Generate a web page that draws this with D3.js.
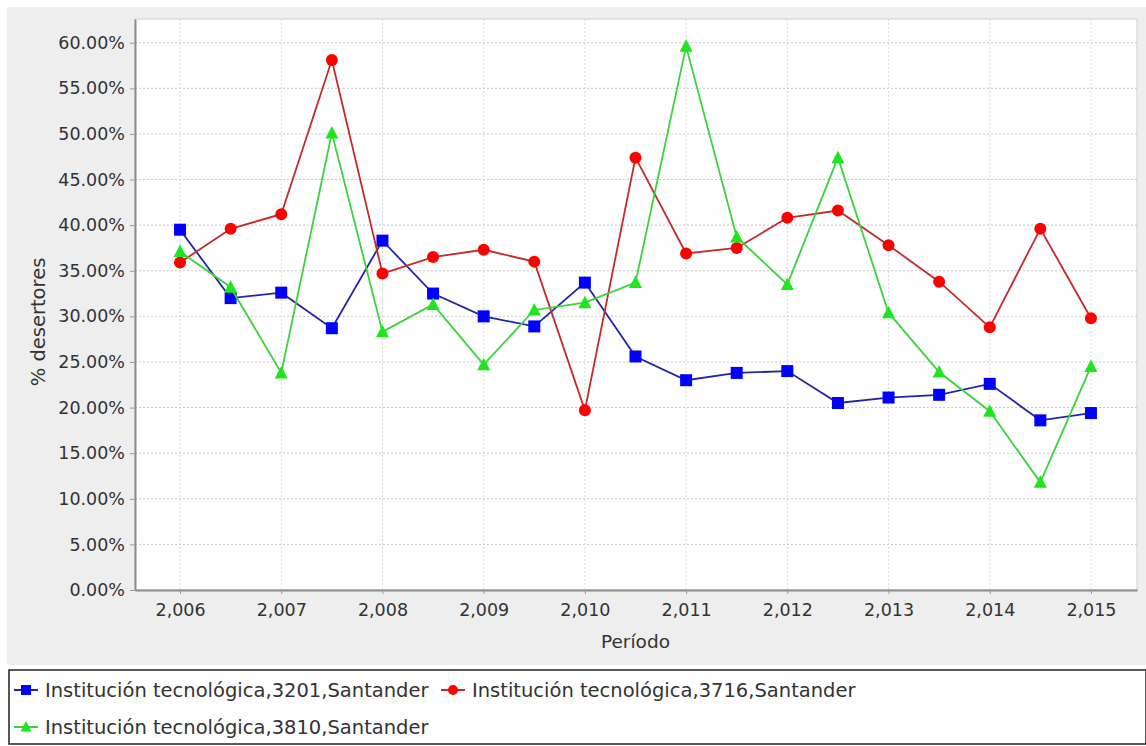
<!DOCTYPE html>
<html>
<head>
<meta charset="utf-8">
<script src="https://cdn.jsdelivr.net/npm/d3@7"></script>
<style>
  html, body { margin: 0; padding: 0; background: #ffffff; }
  svg { display: block; }
  text { font-family: "DejaVu Sans", sans-serif; fill: #333; }
</style>
</head>
<body>
<svg id="chart" width="1146" height="746"></svg>
<script>
// ---- data ----
const periods = [2006, 2006.5, 2007, 2007.5, 2008, 2008.5, 2009, 2009.5, 2010, 2010.5,
                 2011, 2011.5, 2012, 2012.5, 2013, 2013.5, 2014, 2014.5, 2015];
const seriesNames = [
  "Institución tecnológica,3201,Santander",
  "Institución tecnológica,3716,Santander",
  "Institución tecnológica,3810,Santander"
];
const values3201 = [39.5, 32.0, 32.6, 28.7, 38.3, 32.5, 30.0, 28.9, 33.7, 25.6,
                    23.0, 23.8, 24.0, 20.5, 21.1, 21.4, 22.6, 18.6, 19.4];
const values3716 = [35.9, 39.6, 41.2, 58.1, 34.7, 36.5, 37.3, 36.0, 19.7, 47.4,
                    36.9, 37.5, 40.8, 41.6, 37.8, 33.8, 28.8, 39.6, 29.8];
const values3810 = [37.1, 33.2, 23.8, 50.1, 28.3, 31.3, 24.7, 30.7, 31.5, 33.7,
                    59.6, 38.7, 33.5, 47.4, 30.4, 23.9, 19.6, 11.8, 24.5];
const xTicks = [2006, 2007, 2008, 2009, 2010, 2011, 2012, 2013, 2014, 2015];
const yTicks = [0, 5, 10, 15, 20, 25, 30, 35, 40, 45, 50, 55, 60];
const xTitle = "Período";
const yTitle = "% desertores";

// ---- styles ----
const styles = [
  { marker: "square",   fill: "#0000ff", line: "#2424a8" },
  { marker: "circle",   fill: "#ff0000", line: "#c42a2a" },
  { marker: "triangle", fill: "#1ee61e", line: "#3cd23c" }
];
const allValues = [values3201, values3716, values3810];

const svg = d3.select("#chart");
const W = 1146, H = 746;
const plot = { left: 135, right: 1137, top: 19, bottom: 590 };

// outer panel
svg.append("rect").attr("x", 7).attr("y", 7).attr("width", W - 7).attr("height", 658)
  .attr("fill", "#eeeeee");

const x = d3.scaleLinear().domain([2005.555, 2015.455]).range([plot.left, plot.right]);
const y = d3.scaleLinear().domain([0, 62.6]).range([plot.bottom, plot.top]);

// plot background
svg.append("rect").attr("x", plot.left).attr("y", plot.top)
  .attr("width", plot.right - plot.left).attr("height", plot.bottom - plot.top)
  .attr("fill", "#ffffff").attr("stroke", "#d0d0d0").attr("stroke-width", 1);

// gridlines
const grid = svg.append("g");
grid.selectAll(".hg").data(yTicks).join("line")
  .attr("x1", plot.left).attr("x2", plot.right)
  .attr("y1", d => y(d)).attr("y2", d => y(d))
  .attr("stroke", "#c8c8c8").attr("stroke-width", 1).attr("stroke-dasharray", "2,2");
grid.selectAll(".vg").data(xTicks).join("line")
  .attr("y1", plot.top).attr("y2", plot.bottom)
  .attr("x1", d => x(d)).attr("x2", d => x(d))
  .attr("stroke", "#d8d8d8").attr("stroke-width", 1).attr("stroke-dasharray", "2,2");

// axes
const xAxis = d3.axisBottom(x).tickValues(xTicks).tickFormat(d3.format(",")).tickSizeInner(4).tickSizeOuter(0).tickPadding(6);
const yAxis = d3.axisLeft(y).tickValues(yTicks).tickFormat(d => d.toFixed(2) + "%").tickSizeInner(5).tickSizeOuter(0).tickPadding(5);

const gx = svg.append("g").attr("transform", `translate(0,${plot.bottom})`).call(xAxis);
const gy = svg.append("g").attr("transform", `translate(${plot.left},0)`).call(yAxis);
[gx, gy].forEach(g => {
  g.selectAll("path").attr("stroke", "#8c8c8c").attr("stroke-width", 2);
  g.selectAll("line").attr("stroke", "#9a9a9a");
  g.selectAll("text").attr("font-family", "DejaVu Sans, sans-serif").attr("font-size", 17.5).attr("fill", "#333");
});
gx.selectAll("text").attr("dy", "0.9em");

// axis titles
svg.append("text").attr("x", (x(2006) + x(2015)) / 2).attr("y", 648)
  .attr("text-anchor", "middle").attr("font-size", 18.5).text(xTitle);
svg.append("text").attr("transform", `translate(45,322) rotate(-90)`)
  .attr("text-anchor", "middle").attr("font-size", 19.5).text(yTitle);

// markers
function drawMarker(g, type, cx, cy, fill) {
  if (type === "square") {
    g.append("rect").attr("x", cx - 6).attr("y", cy - 6).attr("width", 12).attr("height", 12).attr("fill", fill);
  } else if (type === "circle") {
    g.append("circle").attr("cx", cx).attr("cy", cy).attr("r", 6).attr("fill", fill);
  } else {
    g.append("path").attr("d", `M${cx},${cy - 7}L${cx + 6.5},${cy + 5.5}L${cx - 6.5},${cy + 5.5}Z`).attr("fill", fill);
  }
}

const line = d3.line().x(d => x(d[0])).y(d => y(d[1]));
allValues.forEach((vals, i) => {
  const pts = periods.map((p, k) => [p, vals[k]]);
  const g = svg.append("g");
  g.append("path").datum(pts).attr("d", line).attr("fill", "none")
    .attr("stroke", styles[i].line).attr("stroke-width", 1.8);
  pts.forEach(p => drawMarker(g, styles[i].marker, x(p[0]), y(p[1]), styles[i].fill));
});

// legend
const lg = svg.append("g");
lg.append("rect").attr("x", 9).attr("y", 670).attr("width", W - 9).attr("height", 74)
  .attr("fill", "#ffffff").attr("stroke", "#222").attr("stroke-width", 1.5);
const legendPos = [
  { x: 14, y: 690 },
  { x: 441, y: 690 },
  { x: 14, y: 727 }
];
seriesNames.forEach((name, i) => {
  const p = legendPos[i];
  lg.append("line").attr("x1", p.x).attr("x2", p.x + 24).attr("y1", p.y).attr("y2", p.y)
    .attr("stroke", styles[i].line).attr("stroke-width", 2);
  const ig = lg.append("g");
  if (styles[i].marker === "square") {
    ig.append("rect").attr("x", p.x + 7).attr("y", p.y - 5).attr("width", 10).attr("height", 10).attr("fill", styles[i].fill);
  } else if (styles[i].marker === "circle") {
    ig.append("circle").attr("cx", p.x + 12).attr("cy", p.y).attr("r", 5).attr("fill", styles[i].fill);
  } else {
    ig.append("path").attr("d", `M${p.x + 12},${p.y - 6}L${p.x + 17.5},${p.y + 4.5}L${p.x + 6.5},${p.y + 4.5}Z`).attr("fill", styles[i].fill);
  }
  lg.append("text").attr("x", p.x + 31).attr("y", p.y).attr("dy", "0.35em")
    .attr("font-size", 19.5).attr("fill", "#222").text(name);
});
</script>
</body>
</html>
